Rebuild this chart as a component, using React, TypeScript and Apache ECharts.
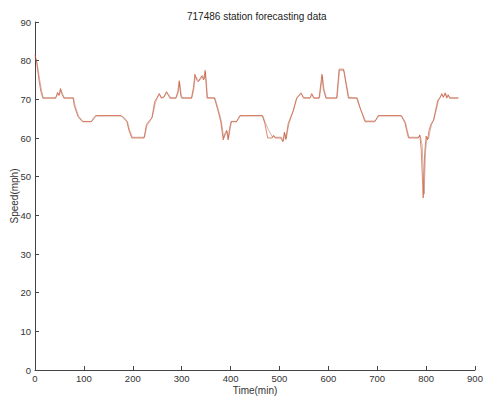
import React, { useEffect, useRef } from "react";
import * as echarts from "echarts";

const titleText = "717486 station forecasting data";
const xName = "Time(min)";
const yName = "Speed(mph)";

const actualTimes = [0, 3, 8, 12, 16, 42, 46, 49, 52, 55, 59, 78, 80, 84, 88, 97, 115, 120, 124, 176, 182, 188, 192, 198, 223, 228, 234, 239, 245, 250, 254, 258, 263, 269, 273, 276, 288, 292, 295, 298, 300, 320, 324, 327, 331, 334, 338, 341, 345, 348, 352, 367, 374, 380, 385, 388, 392, 395, 398, 401, 412, 419, 465, 470, 476, 485, 488, 491, 503, 507, 510, 513, 518, 528, 535, 544, 549, 562, 566, 570, 581, 587, 590, 595, 617, 622, 631, 641, 658, 665, 675, 695, 702, 749, 757, 760, 764, 784, 787, 790, 794, 797, 800, 803, 806, 810, 815, 824, 829, 832, 835, 839, 842, 845, 848, 866];
const actualSpeeds = [81.5, 80, 75, 72, 70.3, 70.3, 71.8, 71, 72.8, 71.3, 70.3, 70.3, 68.5, 67, 65.5, 64.2, 64.2, 65.2, 65.8, 65.8, 65, 64.2, 62, 60, 60, 63.5, 64.5, 65.2, 69.5, 70.5, 71.5, 70.3, 70.5, 72, 71, 70.3, 70.3, 72, 74.8, 71, 70.3, 70.3, 73, 76.5, 75, 74.5, 75.5, 76, 75, 77.5, 70.3, 70.3, 67.2, 64.2, 59.5, 61, 62, 59.5, 62.5, 64.2, 64.2, 65.8, 65.8, 63.8, 60, 60, 60.7, 60, 60, 59, 61.5, 59.6, 63.8, 67, 70.3, 71.7, 70.3, 70.3, 71.5, 70.3, 70.3, 76.5, 72.5, 70.3, 70.3, 77.8, 77.8, 70.3, 70.3, 67.7, 64.2, 64.2, 65.8, 65.8, 63.8, 62, 60, 60, 60.8, 57, 44.5, 56, 60.5, 59.5, 62, 63.6, 64.6, 69.8, 70.6, 71.5, 70.5, 71.7, 70.3, 71.2, 70.3, 70.3];

const forecastTimes = [0, 4, 9, 13, 17, 43, 47, 50, 53, 56, 60, 79, 81, 85, 89, 98, 116, 121, 125, 177, 183, 189, 193, 199, 224, 229, 235, 240, 246, 251, 255, 259, 264, 270, 274, 277, 289, 293, 296, 299, 301, 321, 325, 328, 332, 335, 339, 342, 346, 349, 353, 368, 375, 381, 386, 389, 393, 396, 399, 402, 413, 420, 466, 471, 477, 486, 489, 492, 504, 508, 511, 514, 519, 529, 536, 545, 550, 563, 567, 571, 582, 588, 591, 596, 618, 623, 632, 642, 659, 666, 676, 696, 703, 750, 758, 761, 765, 785, 788, 792, 796, 799, 802, 805, 808, 811, 816, 825, 830, 833, 836, 840, 843, 846, 849, 866];
const forecastSpeeds = [81, 79.5, 75.5, 72.5, 70.4, 70.4, 71.5, 71.2, 72.5, 71.5, 70.4, 70.4, 68.8, 67.2, 65.7, 64.3, 64.3, 65, 65.7, 65.7, 65.2, 64.3, 62.3, 60.2, 60.2, 63.2, 64.3, 65.4, 69, 70.6, 71.3, 70.5, 70.6, 71.7, 71.2, 70.4, 70.4, 71.7, 74.3, 71.3, 70.4, 70.4, 72.7, 76, 75.3, 74.8, 75.2, 76.2, 75.3, 77, 70.5, 70.4, 67.4, 64.4, 60, 60.7, 61.7, 60, 62.2, 64.3, 64.3, 65.7, 65.7, 64, 62.2, 60.2, 60.5, 60.2, 60.2, 59.3, 61.2, 59.9, 63.5, 67.3, 70.4, 71.4, 70.5, 70.4, 71.2, 70.4, 70.4, 76, 72.8, 70.4, 70.4, 77.5, 77.5, 70.5, 70.4, 67.5, 64.4, 64.4, 65.7, 65.7, 64, 62.2, 60.2, 60.2, 60.6, 58, 45.5, 57, 60.2, 59.8, 61.8, 63.4, 64.8, 69.5, 70.8, 71.2, 70.7, 71.4, 70.5, 71, 70.4, 70.4];

const xTicks = { min: 0, max: 900, interval: 100 };
const yTicks = { min: 0, max: 90, interval: 10 };

export default function App() {
  const ref = useRef<HTMLDivElement>(null);
  useEffect(() => {
    document.body.style.margin = "0";
    if (!ref.current) return;
    const chart = echarts.init(ref.current, null, { renderer: "svg" });
    const axisColor = "#444";
    const textColor = "#333";
    const font = "Liberation Sans, Arial, sans-serif";
    chart.setOption({
      animation: false,
      backgroundColor: "#fff",
      title: {
        text: titleText,
        left: 182,
        top: 6,
        textStyle: { fontSize: 10, fontWeight: "normal", color: "#222", fontFamily: font },
      },
      grid: { left: 35, right: 10, top: 22, bottom: 31, containLabel: false, outerBoundsMode: "none" },
      xAxis: {
        type: "value",
        min: xTicks.min,
        max: xTicks.max,
        interval: xTicks.interval,
        name: xName,
        nameLocation: "middle",
        nameGap: 15,
        nameMoveOverlap: false,
        nameTextStyle: { fontSize: 10, color: textColor, fontFamily: font },
        axisLine: { lineStyle: { color: axisColor, width: 1 } },
        axisTick: { inside: true, length: 4, lineStyle: { color: axisColor } },
        axisLabel: { fontSize: 9.5, color: textColor, fontFamily: font, margin: 3 },
        splitLine: { show: false },
      },
      yAxis: {
        type: "value",
        min: yTicks.min,
        max: yTicks.max,
        interval: yTicks.interval,
        name: yName,
        nameLocation: "middle",
        nameGap: 16,
        nameMoveOverlap: false,
        nameTextStyle: { fontSize: 10, color: textColor, fontFamily: font },
        axisLine: { show: true, lineStyle: { color: axisColor, width: 1 } },
        axisTick: { show: true, inside: true, length: 4, lineStyle: { color: axisColor } },
        axisLabel: { fontSize: 9.5, color: textColor, fontFamily: font, margin: 4 },
        splitLine: { show: false },
      },
      series: [
        {
          name: "forecast",
          type: "line",
          data: forecastTimes.map((t, i) => [t, forecastSpeeds[i]]),
          showSymbol: false,
          lineStyle: { color: "#8a4a38", width: 0.6, opacity: 0.7 },
        },
        {
          name: "actual",
          type: "line",
          data: actualTimes.map((t, i) => [t, actualSpeeds[i]]),
          showSymbol: false,
          lineStyle: { color: "#d0502c", width: 0.8, opacity: 0.85 },
        },
      ],
    });
    return () => chart.dispose();
  }, []);
  return <div ref={ref} style={{ width: 485, height: 401 }} />;
}
